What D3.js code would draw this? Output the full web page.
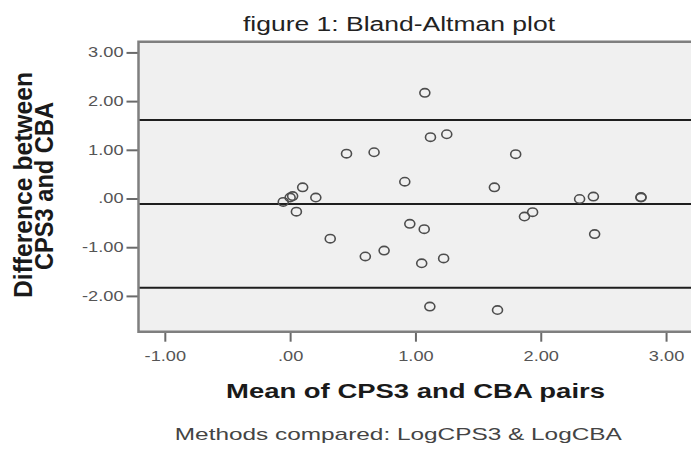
<!DOCTYPE html>
<html>
<head>
<meta charset="utf-8">
<script src="https://cdn.jsdelivr.net/npm/d3@7"></script>
<style>
  body { margin: 0; background: #fff; }
  svg { display: block; font-family: Arial, "Liberation Sans", sans-serif; }
</style>
</head>
<body>
<svg width="691" height="453"></svg>
<script>
// mean of the two methods (x) and their difference (y)
var meanVals = [1.075, 1.12, 1.25, 0.45, 0.67, 1.80, 0.915, 1.63, 0.10, 0.205,
                0.00, 0.02, -0.055, 0.05, 0.32, 0.60, 0.75, 0.955, 1.07, 1.05,
                1.225, 1.115, 1.655, 1.87, 1.935, 2.31, 2.42, 2.43, 2.80, 2.80];
var diffVals = [2.17, 1.26, 1.32, 0.92, 0.95, 0.91, 0.345, 0.23, 0.23, 0.02,
                0.02, 0.05, -0.07, -0.27, -0.825, -1.19, -1.07, -0.52, -0.63, -1.33,
                -1.23, -2.22, -2.29, -0.37, -0.28, -0.01, 0.04, -0.73, 0.02, 0.03];

// mean difference and limits of agreement
var refLines = [1.61, -0.113, -1.83];

var xTicks = [-1, 0, 1, 2, 3];
var xTickLabels = ["-1.00", ".00", "1.00", "2.00", "3.00"];
var yTicks = [3, 2, 1, 0, -1, -2];
var yTickLabels = ["3.00", "2.00", "1.00", ".00", "-1.00", "-2.00"];

var svg = d3.select("svg");

var pLeft = 138.5, pRight = 691, pTop = 41.7, pBottom = 331.7;

var x = d3.scaleLinear().domain([-1.21, 3.199]).range([pLeft, pRight]);
var y = d3.scaleLinear().domain([-2.735, 3.22]).range([pBottom, pTop]);

// stretch text horizontally a bit, the source image is widened
function stretch(sel, f) {
    sel.each(function() {
        var w = this.getComputedTextLength();
        d3.select(this).attr("textLength", w * f).attr("lengthAdjust", "spacingAndGlyphs");
    });
}

// plot background
svg.append("rect")
    .attr("x", pLeft).attr("y", pTop)
    .attr("width", pRight - pLeft).attr("height", pBottom - pTop)
    .attr("fill", "#f0f0f0");

// reference lines
svg.append("g").selectAll("line")
    .data(refLines)
    .enter().append("line")
    .attr("x1", pLeft).attr("x2", pRight)
    .attr("y1", function(d) { return y(d); })
    .attr("y2", function(d) { return y(d); })
    .attr("stroke", "#1e1e1e")
    .attr("stroke-width", 2);

// points
var pts = meanVals.map(function(m, i) { return { m: m, d: diffVals[i] }; });
svg.append("g").selectAll("ellipse")
    .data(pts)
    .enter().append("ellipse")
    .attr("cx", function(d) { return x(d.m); })
    .attr("cy", function(d) { return y(d.d); })
    .attr("rx", 5)
    .attr("ry", 4.2)
    .attr("fill", "none")
    .attr("stroke", "#4d4d4d")
    .attr("stroke-width", 1.6);

// axes
var yAxis = svg.append("g")
    .attr("transform", "translate(" + pLeft + ",0)")
    .call(d3.axisLeft(y).tickValues(yTicks).tickSize(12).tickPadding(3)
        .tickFormat(function(d, i) { return yTickLabels[i]; }));

var xAxis = svg.append("g")
    .attr("transform", "translate(0," + pBottom + ")")
    .call(d3.axisBottom(x).tickValues(xTicks).tickSize(10).tickPadding(9)
        .tickFormat(function(d, i) { return xTickLabels[i]; }));

[xAxis, yAxis].forEach(function(a) {
    a.select(".domain").remove();
    a.selectAll(".tick line").attr("stroke", "#6a6a6a").attr("stroke-width", 2);
    a.selectAll(".tick text")
        .attr("fill", "#555")
        .style("font-size", "14px")
        .style("font-family", "Arial, 'Liberation Sans', sans-serif");
    stretch(a.selectAll(".tick text"), 1.3);
});

// frame (top, left, bottom)
svg.append("path")
    .attr("d", "M" + pRight + "," + pTop + "H" + pLeft + "V" + pBottom + "H" + pRight)
    .attr("fill", "none")
    .attr("stroke", "#7f7f7f")
    .attr("stroke-width", 2.5);

// titles
svg.append("text")
    .attr("x", 399).attr("y", 30.5)
    .attr("text-anchor", "middle")
    .attr("fill", "#222")
    .style("font-size", "20px")
    .attr("textLength", 312).attr("lengthAdjust", "spacingAndGlyphs")
    .text("figure 1: Bland-Altman plot");

svg.append("text")
    .attr("x", 415.5).attr("y", 398)
    .attr("text-anchor", "middle")
    .attr("fill", "#1a1a1a")
    .style("font-size", "20px")
    .style("font-weight", "bold")
    .attr("textLength", 379).attr("lengthAdjust", "spacingAndGlyphs")
    .text("Mean of CPS3 and CBA pairs");

svg.append("text")
    .attr("x", 398.3).attr("y", 440)
    .attr("text-anchor", "middle")
    .attr("fill", "#444")
    .style("font-size", "17px")
    .attr("textLength", 447).attr("lengthAdjust", "spacingAndGlyphs")
    .text("Methods compared: LogCPS3 & LogCBA");

svg.append("text")
    .attr("transform", "translate(31.5,185) rotate(-90)")
    .attr("text-anchor", "middle")
    .attr("fill", "#1a1a1a")
    .style("font-size", "25px")
    .style("font-weight", "bold")
    .attr("textLength", 226).attr("lengthAdjust", "spacingAndGlyphs")
    .text("Difference between");

svg.append("text")
    .attr("transform", "translate(53,186) rotate(-90)")
    .attr("text-anchor", "middle")
    .attr("fill", "#1a1a1a")
    .style("font-size", "25px")
    .style("font-weight", "bold")
    .attr("textLength", 168).attr("lengthAdjust", "spacingAndGlyphs")
    .text("CPS3 and CBA");
</script>
</body>
</html>
